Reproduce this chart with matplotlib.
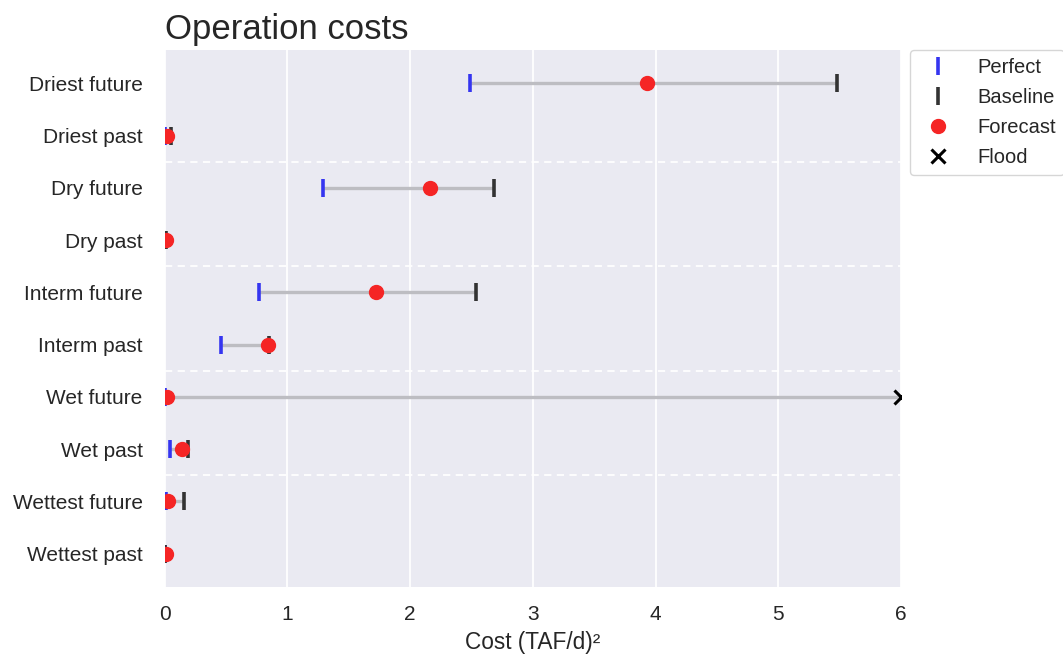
import numpy as np
import matplotlib
matplotlib.use("Agg")
import matplotlib.pyplot as plt
from matplotlib.lines import Line2D

plt.rcParams['font.family'] = ['Liberation Sans', 'DejaVu Sans']

scenarios = ["Driest future", "Driest past", "Dry future", "Dry past",
             "Interm future", "Interm past", "Wet future", "Wet past",
             "Wettest future", "Wettest past"]
perfect = [2.49, 0.00, 1.29, 0.00, 0.77, 0.46, 0.00, 0.04, 0.01, 0.00]
baseline = [5.48, 0.05, 2.68, 0.01, 2.54, 0.85, None, 0.19, 0.16, 0.00]
forecast = [3.93, 0.02, 2.16, 0.01, 1.72, 0.84, 0.02, 0.14, 0.03, 0.01]
x_max = 6

fig = plt.figure(figsize=(10.63, 6.55), dpi=100)
ax = fig.add_axes([0.155, 0.1038, 0.6926, 0.82])
ax.set_facecolor('#EAEAF2')
for s in ax.spines.values():
    s.set_visible(False)

ypos = np.arange(len(scenarios))
blue = '#3535f0'
red = '#f52525'
dark = '#333333'

for y, p, b, f in zip(ypos, perfect, baseline, forecast):
    end = x_max if b is None else b
    ax.plot([p, end], [y, y], color='#bdbdc2', lw=2.4, zorder=2, solid_capstyle='butt')
    ax.plot(p, y, marker='|', color=blue, ms=13, mew=2.6, zorder=3, linestyle='none')
    if b is None:
        ax.plot(x_max, y, marker='x', color='black', ms=10, mew=2.2, zorder=4, linestyle='none')
    else:
        ax.plot(b, y, marker='|', color=dark, ms=13, mew=2.6, zorder=3, linestyle='none')
    ax.plot(f, y, marker='o', color=red, ms=10, zorder=5, linestyle='none')

# separators between pairs of scenarios
for sep in np.arange(1.5, len(scenarios) - 1, 2):
    ax.axhline(sep, color='white', lw=1.3, ls=(0, (4, 3)), zorder=1)

ax.set_xlim(0, x_max)
ax.set_ylim(len(scenarios) - 1 + 0.64, -0.64)
ax.set_yticks(ypos)
ax.set_yticklabels(scenarios)
ax.set_xticks(range(0, x_max + 1))
ax.grid(axis='x', color='white', lw=1.3, zorder=0)
ax.set_axisbelow(True)
ax.tick_params(axis='y', length=0, labelsize=15, labelcolor='#262626', pad=16)
ax.tick_params(axis='x', length=0, labelsize=15, labelcolor='#262626', pad=13)
ax.set_xlabel('Cost (TAF/d)²', fontsize=16.3, color='#262626', labelpad=5)
ax.set_title('Operation costs', loc='left', fontsize=25, color='#262626', pad=8)

handles = [
    Line2D([], [], marker='|', color=blue, ms=13, mew=2.6, linestyle='none'),
    Line2D([], [], marker='|', color=dark, ms=13, mew=2.6, linestyle='none'),
    Line2D([], [], marker='o', color=red, ms=10, linestyle='none'),
    Line2D([], [], marker='x', color='black', ms=10, mew=2.2, linestyle='none'),
]
leg = ax.legend(handles, ['Perfect', 'Baseline', 'Forecast', 'Flood'],
                loc='upper left', bbox_to_anchor=(1.012, 1.0), fontsize=14.5,
                frameon=True, borderaxespad=0, handletextpad=0.95,
                labelspacing=0.55, borderpad=0.4)
leg.get_frame().set_edgecolor('#cccccc')
for t in leg.get_texts():
    t.set_color('#262626')

fig.savefig('out.png', dpi=100)
